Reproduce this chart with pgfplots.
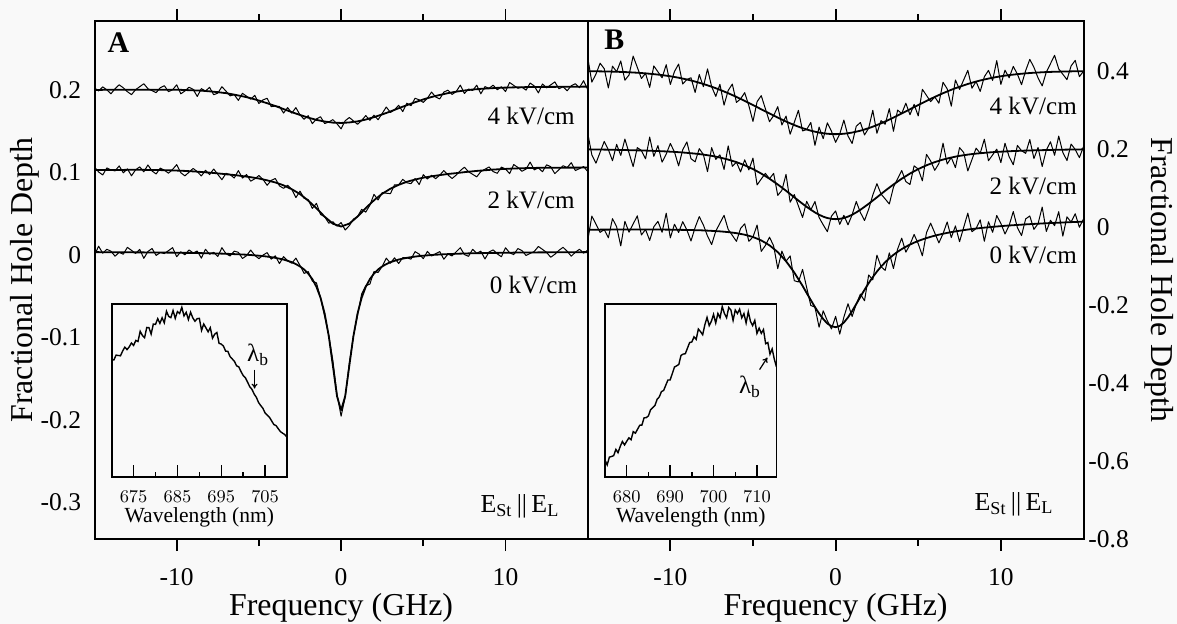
\documentclass[border=0pt]{standalone}
\usepackage{fontspec}
\setmainfont{Liberation Serif}
\usepackage{pgfplots}
\pgfplotsset{compat=1.18}
\usepackage{pgfplotstable}
\usetikzlibrary{arrows.meta}

\pgfplotstableread{
x f4 d4 f2 d2 f0 d0
-15 0.2000 0.2024 0.1030 0.1066 0.0035 -0.0001
-14.75 0.2000 0.1988 0.1030 0.1006 0.0035 0.0107
-14.5 0.2001 0.2037 0.1030 0.0970 0.0034 0.0022
-14.25 0.2001 0.2001 0.1030 0.1055 0.0034 0.0070
-14 0.2001 0.1953 0.1031 0.1031 0.0034 0.0046
-13.75 0.2002 0.2014 0.1031 0.1019 0.0034 -0.0014
-13.5 0.2002 0.2062 0.1031 0.1079 0.0033 0.0033
-13.25 0.2002 0.2026 0.1031 0.0996 0.0033 0.0009
-13 0.2003 0.1979 0.1032 0.1044 0.0033 0.0093
-12.75 0.2003 0.1943 0.1032 0.0960 0.0033 0.0057
-12.5 0.2003 0.2003 0.1032 0.1032 0.0032 0.0020
-12.25 0.2003 0.2039 0.1032 0.1068 0.0032 0.0068
-12 0.2003 0.2075 0.1032 0.1008 0.0032 -0.0040
-11.75 0.2003 0.2015 0.1031 0.1091 0.0031 0.0043
-11.5 0.2003 0.1991 0.1030 0.1018 0.0031 0.0079
-11.25 0.2003 0.1967 0.1030 0.0982 0.0031 -0.0005
-11 0.2003 0.2027 0.1029 0.1053 0.0030 0.0030
-10.75 0.2003 0.2051 0.1028 0.1028 0.0030 0.0018
-10.5 0.2003 0.1979 0.1027 0.0991 0.0029 0.0053
-10.25 0.2002 0.2002 0.1025 0.1037 0.0029 0.0089
-10 0.2002 0.2062 0.1023 0.1095 0.0028 -0.0020
-9.75 0.2001 0.1953 0.1021 0.0997 0.0027 0.0039
-9.5 0.1999 0.1987 0.1019 0.0959 0.0026 0.0002
-9.25 0.1997 0.2033 0.1016 0.1004 0.0026 0.0062
-9 0.1995 0.2007 0.1013 0.1049 0.0025 0.0025
-8.75 0.1993 0.1921 0.1010 0.1010 0.0024 0.0048
-8.5 0.1991 0.2015 0.1006 0.0958 0.0023 -0.0037
-8.25 0.1987 0.1987 0.1002 0.1026 0.0022 0.0070
-8 0.1983 0.2031 0.0998 0.0974 0.0021 0.0009
-7.75 0.1978 0.1942 0.0994 0.1042 0.0020 0.0032
-7.5 0.1973 0.1961 0.0989 0.0977 0.0018 -0.0018
-7.25 0.1967 0.2039 0.0984 0.0912 0.0017 0.0089
-7 0.1961 0.1985 0.0978 0.0990 0.0015 0.0015
-6.75 0.1952 0.1928 0.0974 0.0974 0.0013 -0.0011
-6.5 0.1943 0.1943 0.0969 0.0933 0.0011 0.0047
-6.25 0.1933 0.1873 0.0963 0.1023 0.0009 0.0033
-6 0.1923 0.1959 0.0956 0.0932 0.0006 -0.0042
-5.75 0.1912 0.1924 0.0950 0.0974 0.0004 -0.0008
-5.5 0.1900 0.1888 0.0943 0.0895 0.0000 0.0060
-5.25 0.1886 0.1934 0.0935 0.0923 -0.0004 -0.0004
-5 0.1871 0.1835 0.0927 0.0963 -0.0008 -0.0044
-4.75 0.1855 0.1879 0.0916 0.0916 -0.0013 -0.0001
-4.5 0.1839 0.1899 0.0905 0.0845 -0.0019 0.0029
-4.25 0.1822 0.1798 0.0892 0.0904 -0.0026 -0.0050
-4 0.1805 0.1805 0.0879 0.0927 -0.0034 -0.0010
-3.75 0.1787 0.1799 0.0862 0.0838 -0.0044 -0.0104
-3.5 0.1768 0.1720 0.0844 0.0808 -0.0055 -0.0019
-3.25 0.1750 0.1786 0.0821 0.0845 -0.0070 -0.0070
-3 0.1731 0.1719 0.0797 0.0797 -0.0087 -0.0099
-2.75 0.1714 0.1786 0.0768 0.0696 -0.0110 -0.0038
-2.5 0.1697 0.1697 0.0738 0.0774 -0.0138 -0.0126
-2.25 0.1681 0.1645 0.0699 0.0687 -0.0175 -0.0223
-2 0.1664 0.1688 0.0659 0.0671 -0.0225 -0.0201
-1.75 0.1651 0.1591 0.0613 0.0565 -0.0292 -0.0316
-1.5 0.1637 0.1649 0.0566 0.0626 -0.0385 -0.0337
-1.25 0.1627 0.1675 0.0515 0.0491 -0.0518 -0.0518
-1 0.1617 0.1593 0.0464 0.0464 -0.0709 -0.0745
-0.75 0.1611 0.1611 0.0422 0.0386 -0.0982 -0.0970
-0.5 0.1604 0.1640 0.0379 0.0403 -0.1341 -0.1281
-0.25 0.1602 0.1590 0.0362 0.0350 -0.1709 -0.1685
0 0.1600 0.1528 0.0345 0.0393 -0.1880 -0.1952
0.25 0.1603 0.1627 0.0363 0.0303 -0.1709 -0.1721
0.5 0.1606 0.1666 0.0380 0.0356 -0.1341 -0.1305
0.75 0.1613 0.1625 0.0423 0.0435 -0.0982 -0.0982
1 0.1619 0.1583 0.0466 0.0466 -0.0709 -0.0733
1.25 0.1630 0.1630 0.0517 0.0553 -0.0518 -0.0470
1.5 0.1641 0.1689 0.0568 0.0520 -0.0385 -0.0373
1.75 0.1656 0.1632 0.0616 0.0604 -0.0292 -0.0352
2 0.1670 0.1694 0.0663 0.0735 -0.0225 -0.0201
2.25 0.1687 0.1639 0.0703 0.0667 -0.0175 -0.0211
2.5 0.1703 0.1715 0.0743 0.0755 -0.0138 -0.0138
2.75 0.1721 0.1793 0.0773 0.0749 -0.0110 -0.0038
3 0.1739 0.1727 0.0803 0.0743 -0.0087 -0.0099
3.25 0.1759 0.1759 0.0827 0.0851 -0.0070 -0.0034
3.5 0.1778 0.1814 0.0850 0.0850 -0.0055 -0.0103
3.75 0.1797 0.1737 0.0869 0.0917 -0.0044 -0.0032
4 0.1815 0.1839 0.0887 0.0875 -0.0034 -0.0034
4.25 0.1833 0.1809 0.0901 0.0865 -0.0026 -0.0050
4.5 0.1851 0.1899 0.0914 0.0926 -0.0019 0.0041
4.75 0.1868 0.1880 0.0926 0.0854 -0.0013 0.0011
5 0.1885 0.1849 0.0937 0.0973 -0.0008 -0.0044
5.25 0.1900 0.1900 0.0945 0.0921 -0.0004 0.0044
5.5 0.1914 0.1974 0.0953 0.0965 0.0000 -0.0012
5.75 0.1927 0.1915 0.0961 0.0925 0.0004 0.0016
6 0.1939 0.1891 0.0968 0.0968 0.0006 0.0042
6.25 0.1950 0.1974 0.0975 0.1023 0.0009 -0.0051
6.5 0.1961 0.1997 0.0982 0.0970 0.0011 0.0011
6.75 0.1970 0.1946 0.0987 0.0927 0.0013 -0.0011
7 0.1979 0.1979 0.0992 0.0968 0.0015 0.0039
7.25 0.1986 0.2058 0.0998 0.1022 0.0017 0.0089
7.5 0.1993 0.1957 0.1004 0.1064 0.0018 0.0006
7.75 0.1999 0.2011 0.1009 0.1009 0.0020 -0.0016
8 0.2005 0.1993 0.1014 0.0978 0.0021 0.0069
8.25 0.2009 0.2057 0.1019 0.0947 0.0022 0.0022
8.5 0.2013 0.1953 0.1023 0.1011 0.0023 0.0047
8.75 0.2016 0.2040 0.1027 0.1039 0.0024 -0.0048
9 0.2019 0.2019 0.1031 0.1067 0.0025 0.0037
9.25 0.2022 0.2058 0.1035 0.1011 0.0026 0.0062
9.5 0.2025 0.2001 0.1038 0.0990 0.0026 0.0014
9.75 0.2027 0.2039 0.1041 0.1065 0.0027 -0.0021
10 0.2028 0.1980 0.1043 0.1043 0.0028 0.0088
10.25 0.2030 0.2090 0.1046 0.0986 0.0028 0.0028
10.5 0.2031 0.2055 0.1048 0.1096 0.0029 0.0005
10.75 0.2032 0.2020 0.1050 0.1062 0.0030 0.0078
11 0.2033 0.2033 0.1051 0.1015 0.0030 0.0054
11.25 0.2034 0.1998 0.1053 0.1041 0.0030 -0.0006
11.5 0.2035 0.2083 0.1054 0.1126 0.0031 0.0019
11.75 0.2036 0.2048 0.1055 0.1031 0.0031 0.0043
12 0.2036 0.1964 0.1056 0.1056 0.0032 0.0104
12.25 0.2036 0.2072 0.1057 0.1009 0.0032 0.0068
12.5 0.2037 0.2025 0.1057 0.1093 0.0032 0.0032
12.75 0.2037 0.2061 0.1058 0.1070 0.0033 -0.0027
13 0.2037 0.2097 0.1058 0.0986 0.0033 0.0009
13.25 0.2038 0.2014 0.1058 0.1034 0.0033 0.0057
13.5 0.2038 0.2038 0.1058 0.1082 0.0033 0.0093
13.75 0.2038 0.1990 0.1059 0.1059 0.0034 0.0046
14 0.2039 0.2051 0.1059 0.1119 0.0034 -0.0014
14.25 0.2039 0.2075 0.1059 0.1023 0.0034 0.0034
14.5 0.2039 0.2027 0.1059 0.1047 0.0034 0.0070
14.75 0.2040 0.2112 0.1060 0.1072 0.0035 0.0023
15 0.2040 0.2004 0.1060 0.1012 0.0035 0.0059
}\tabA

\pgfplotstableread{
x f4 d4 f2 d2 f0 d0
-15 0.3994 0.4344 0.1989 0.2409 -0.0072 -0.0352
-14.75 0.3993 0.3713 0.1988 0.1848 -0.0071 0.0279
-14.5 0.3991 0.3921 0.1986 0.1636 -0.0070 0.0070
-14.25 0.3989 0.4199 0.1985 0.1915 -0.0069 -0.0139
-14 0.3987 0.4057 0.1983 0.2193 -0.0068 -0.0068
-13.75 0.3985 0.3565 0.1981 0.1981 -0.0068 -0.0278
-13.5 0.3982 0.4122 0.1979 0.1699 -0.0067 0.0213
-13.25 0.3979 0.3979 0.1977 0.2117 -0.0066 0.0004
-13 0.3975 0.4255 0.1974 0.1834 -0.0066 -0.0486
-12.75 0.3971 0.3761 0.1972 0.2252 -0.0065 0.0145
-12.5 0.3966 0.3896 0.1969 0.1899 -0.0065 -0.0135
-12.25 0.3960 0.4380 0.1967 0.1547 -0.0065 0.0075
-12 0.3954 0.4094 0.1964 0.2034 -0.0065 0.0285
-11.75 0.3946 0.3806 0.1961 0.1961 -0.0065 -0.0205
-11.5 0.3938 0.3938 0.1958 0.1748 -0.0065 -0.0065
-11.25 0.3928 0.3578 0.1954 0.2304 -0.0065 -0.0345
-11 0.3918 0.4128 0.1950 0.1810 -0.0066 0.0004
-10.75 0.3906 0.3976 0.1946 0.2086 -0.0066 0.0144
-10.5 0.3894 0.3824 0.1941 0.1661 -0.0067 -0.0137
-10.25 0.3879 0.4159 0.1936 0.1866 -0.0068 0.0352
-10 0.3863 0.3653 0.1930 0.2140 -0.0069 -0.0279
-9.75 0.3845 0.3985 0.1924 0.1924 -0.0071 0.0069
-9.5 0.3826 0.4176 0.1917 0.1567 -0.0073 -0.0143
-9.25 0.3804 0.3664 0.1909 0.1979 -0.0075 0.0135
-9 0.3781 0.3781 0.1900 0.2180 -0.0077 -0.0077
-8.75 0.3755 0.3825 0.1890 0.1750 -0.0079 -0.0359
-8.5 0.3728 0.3448 0.1880 0.1670 -0.0082 -0.0012
-8.25 0.3697 0.3907 0.1868 0.2008 -0.0085 0.0265
-8 0.3666 0.3596 0.1855 0.1855 -0.0089 0.0051
-7.75 0.3631 0.4051 0.1839 0.1419 -0.0094 -0.0234
-7.5 0.3596 0.3596 0.1823 0.2033 -0.0100 -0.0450
-7.25 0.3557 0.3347 0.1802 0.1732 -0.0106 -0.0106
-7 0.3517 0.3657 0.1780 0.1850 -0.0113 0.0097
-6.75 0.3473 0.3123 0.1754 0.1474 -0.0122 0.0298
-6.5 0.3429 0.3499 0.1728 0.2078 -0.0132 -0.0062
-6.25 0.3382 0.3662 0.1695 0.1555 -0.0145 -0.0215
-6 0.3334 0.3194 0.1662 0.1662 -0.0159 -0.0369
-5.75 0.3283 0.3283 0.1622 0.1412 -0.0178 -0.0038
-5.5 0.3232 0.3442 0.1581 0.1721 -0.0199 0.0081
-5.25 0.3179 0.3109 0.1533 0.1463 -0.0227 -0.0367
-5 0.3126 0.2706 0.1484 0.1764 -0.0258 -0.0258
-4.75 0.3072 0.3212 0.1427 0.1077 -0.0300 0.0050
-4.5 0.3017 0.3367 0.1369 0.1229 -0.0346 -0.0626
-4.25 0.2963 0.3033 0.1303 0.1373 -0.0406 -0.0476
-4 0.2909 0.2699 0.1237 0.1237 -0.0471 -0.0261
-3.75 0.2856 0.2856 0.1163 0.1373 -0.0556 -0.0486
-3.5 0.2803 0.3083 0.1089 0.0809 -0.0646 -0.1066
-3.25 0.2753 0.2613 0.1009 0.0939 -0.0760 -0.0620
-3 0.2703 0.2843 0.0928 0.1348 -0.0878 -0.0878
-2.75 0.2657 0.2377 0.0844 0.0634 -0.1022 -0.0742
-2.5 0.2612 0.2682 0.0760 0.0830 -0.1168 -0.1378
-2.25 0.2571 0.2991 0.0677 0.0537 -0.1340 -0.1410
-2 0.2533 0.2463 0.0594 0.0244 -0.1508 -0.1088
-1.75 0.2499 0.2499 0.0516 0.0656 -0.1695 -0.1555
-1.5 0.2468 0.2678 0.0441 0.0441 -0.1874 -0.2014
-1.25 0.2443 0.2093 0.0373 0.0653 -0.2054 -0.2054
-1 0.2420 0.2560 0.0313 0.0243 -0.2219 -0.2569
-0.75 0.2403 0.2263 0.0265 0.0055 -0.2360 -0.2150
-0.5 0.2390 0.2670 0.0229 -0.0121 -0.2476 -0.2406
-0.25 0.2382 0.2452 0.0208 0.0278 -0.2545 -0.2615
0 0.2380 0.2170 0.0200 0.0410 -0.2570 -0.2290
0.25 0.2382 0.2382 0.0208 0.0068 -0.2538 -0.2748
0.5 0.2390 0.2740 0.0229 0.0299 -0.2451 -0.2311
0.75 0.2403 0.2333 0.0265 0.0055 -0.2319 -0.1969
1 0.2420 0.2140 0.0313 0.0313 -0.2156 -0.2296
1.25 0.2443 0.2583 0.0373 0.0653 -0.1976 -0.1976
1.5 0.2468 0.2678 0.0441 0.0371 -0.1791 -0.1721
1.75 0.2499 0.2359 0.0516 0.0166 -0.1611 -0.1891
2 0.2533 0.2533 0.0594 0.0454 -0.1441 -0.1231
2.25 0.2571 0.2991 0.0677 0.0817 -0.1286 -0.1356
2.5 0.2612 0.2402 0.0760 0.1110 -0.1143 -0.0723
2.75 0.2657 0.2727 0.0844 0.0844 -0.1018 -0.1018
3 0.2703 0.2633 0.0928 0.0718 -0.0904 -0.1114
3.25 0.2753 0.3033 0.1009 0.0589 -0.0805 -0.0665
3.5 0.2803 0.2453 0.1089 0.1019 -0.0715 -0.1065
3.75 0.2856 0.2996 0.1163 0.1233 -0.0638 -0.0568
4 0.2909 0.2909 0.1237 0.1447 -0.0568 -0.0288
4.25 0.2963 0.3173 0.1303 0.1163 -0.0507 -0.0647
4.5 0.3017 0.2877 0.1369 0.1089 -0.0452 -0.0452
4.75 0.3072 0.3142 0.1427 0.1567 -0.0403 -0.0193
5 0.3126 0.2846 0.1484 0.1484 -0.0359 -0.0429
5.25 0.3179 0.3529 0.1533 0.1183 -0.0320 -0.0740
5.5 0.3232 0.3372 0.1581 0.1861 -0.0285 -0.0145
5.75 0.3283 0.3213 0.1622 0.1692 -0.0253 0.0097
6 0.3334 0.3334 0.1662 0.1452 -0.0224 -0.0154
6.25 0.3382 0.3172 0.1695 0.1625 -0.0198 -0.0408
6.5 0.3429 0.3709 0.1728 0.2148 -0.0174 -0.0174
6.75 0.3473 0.3543 0.1754 0.1614 -0.0152 0.0128
7 0.3517 0.3097 0.1780 0.1780 -0.0132 -0.0272
7.25 0.3557 0.3767 0.1802 0.1522 -0.0114 0.0026
7.5 0.3596 0.3526 0.1823 0.2033 -0.0097 -0.0377
7.75 0.3631 0.3771 0.1839 0.1909 -0.0081 -0.0011
8 0.3666 0.4016 0.1855 0.1435 -0.0066 0.0354
8.25 0.3697 0.3557 0.1868 0.1728 -0.0053 -0.0123
8.5 0.3728 0.3728 0.1880 0.2020 -0.0040 -0.0040
8.75 0.3755 0.3475 0.1890 0.1890 -0.0028 0.0182
9 0.3781 0.3851 0.1900 0.2250 -0.0017 -0.0367
9.25 0.3804 0.4014 0.1909 0.1699 -0.0007 0.0133
9.5 0.3826 0.3756 0.1917 0.1847 0.0003 -0.0137
9.75 0.3845 0.4265 0.1924 0.1994 0.0012 0.0292
10 0.3863 0.3653 0.1930 0.1650 0.0021 0.0091
10.25 0.3879 0.4019 0.1936 0.2146 0.0030 -0.0180
10.5 0.3894 0.3824 0.1941 0.1801 0.0038 0.0038
10.75 0.3906 0.4116 0.1946 0.1596 0.0045 0.0395
11 0.3918 0.3918 0.1950 0.2090 0.0052 -0.0018
11.25 0.3928 0.3648 0.1954 0.1954 0.0059 -0.0221
11.5 0.3938 0.4008 0.1958 0.1888 0.0066 0.0206
11.75 0.3946 0.4296 0.1961 0.2241 0.0072 0.0282
12 0.3954 0.4094 0.1964 0.1754 0.0078 -0.0062
12.25 0.3960 0.3820 0.1967 0.2037 0.0084 0.0084
12.5 0.3966 0.3616 0.1969 0.1549 0.0090 0.0510
12.75 0.3971 0.3971 0.1972 0.1972 0.0095 -0.0115
13 0.3975 0.4185 0.1974 0.2184 0.0100 0.0170
13.25 0.3979 0.4399 0.1977 0.1837 0.0105 0.0035
13.5 0.3982 0.4052 0.1979 0.2329 0.0110 0.0390
13.75 0.3985 0.3915 0.1981 0.1911 0.0115 -0.0235
14 0.3987 0.3777 0.1983 0.1703 0.0119 0.0259
14.25 0.3989 0.4129 0.1985 0.2125 0.0124 0.0124
14.5 0.3991 0.4271 0.1986 0.1986 0.0128 0.0338
14.75 0.3993 0.3853 0.1988 0.1778 0.0132 -0.0008
15 0.3994 0.3994 0.1989 0.2059 0.0136 0.0206
}\tabB

\pgfplotstableread{
x y
670 0.678
670.5 0.676
671 0.704
671.5 0.702
672 0.700
672.5 0.728
673 0.750
673.5 0.736
674 0.752
674.5 0.774
675 0.760
675.5 0.789
676 0.783
676.5 0.842
677 0.818
677.5 0.805
678 0.864
678.5 0.863
679 0.826
679.5 0.884
680 0.882
680.5 0.915
681 0.888
681.5 0.920
682 0.891
682.5 0.958
683 0.928
683.5 0.921
684 0.962
684.5 0.917
685 0.956
685.5 0.945
686 0.981
686.5 0.931
687 0.952
687.5 0.910
688 0.952
688.5 0.920
689 0.900
689.5 0.915
690 0.917
690.5 0.847
691 0.884
691.5 0.862
692 0.839
692.5 0.863
693 0.802
693.5 0.825
694 0.835
694.5 0.772
695 0.768
695.5 0.756
696 0.727
696.5 0.726
697 0.696
697.5 0.682
698 0.668
698.5 0.642
699 0.636
699.5 0.609
700 0.586
700.5 0.573
701 0.548
701.5 0.521
702 0.506
702.5 0.479
703 0.460
703.5 0.430
704 0.412
704.5 0.396
705 0.369
705.5 0.356
706 0.344
706.5 0.323
707 0.302
707.5 0.296
708 0.278
708.5 0.261
709 0.252
709.5 0.244
710 0.228
}\insA

\pgfplotstableread{
x y
675 0.096
675.5 0.068
676 0.113
676.5 0.117
677 0.122
677.5 0.158
678 0.139
678.5 0.175
679 0.204
679.5 0.184
680 0.205
680.5 0.225
681 0.214
681.5 0.261
682 0.252
682.5 0.275
683 0.298
683.5 0.299
684 0.341
684.5 0.342
685 0.352
685.5 0.388
686 0.400
686.5 0.412
687 0.448
687.5 0.462
688 0.493
688.5 0.499
689 0.530
689.5 0.560
690 0.560
690.5 0.597
691 0.635
691.5 0.642
692 0.650
692.5 0.702
693 0.710
693.5 0.712
694 0.745
694.5 0.777
695 0.780
695.5 0.810
696 0.795
696.5 0.855
697 0.840
697.5 0.822
698 0.880
698.5 0.922
699 0.875
699.5 0.900
700 0.940
700.5 0.890
701 0.945
701.5 0.920
702 0.985
702.5 0.945
703 0.920
703.5 0.980
704 0.965
704.5 0.905
705 0.965
705.5 0.945
706 0.970
706.5 0.920
707 0.945
707.5 0.890
708 0.955
708.5 0.900
709 0.875
709.5 0.905
710 0.830
710.5 0.860
711 0.830
711.5 0.852
712 0.770
712.5 0.777
713 0.710
713.5 0.740
714 0.680
714.5 0.635
}\insB

\pgfplotsset{
  mainax/.style={
    scale only axis, height=259bp, xmin=-15, xmax=15,
    axis line style={line width=1bp},
    tick align=outside,
    xtick={-10,0,10}, xticklabels={-10,0,10}, minor xtick={-5,5},
    xtick pos=both, xticklabel pos=left,
    major tick length=6bp, minor tick length=3.5bp,
    every tick/.style={black, line width=0.9bp},
    y tick style={draw=none},
    tick label style={font=\fontsize{12.8}{14}\selectfont},
    xticklabel style={anchor=center, yshift=-13bp},
    xlabel={Frequency (GHz)},
    every axis x label/.style={at={(axis description cs:0.5,0)}, anchor=center, yshift=-34.5bp, font=\fontsize{16}{18}\selectfont},
    ylabel={Fractional Hole Depth},
  },
  insax/.style={
    scale only axis, height=86.35bp, ymin=0, ymax=1, ytick=\empty,
    tick align=inside, xtick pos=left, xticklabel pos=left,
    major tick length=5.8bp, minor tick length=2.5bp,
    every tick/.style={black, line width=0.7bp},
    axis line style={line width=0.8bp},
    xticklabel style={anchor=center, yshift=-10bp, font=\fontsize{9.5}{10}\selectfont},
    xlabel={Wavelength (nm)},
    every axis x label/.style={at={(axis description cs:0.5,0)}, anchor=center, yshift=-20.5bp, font=\fontsize{10.8}{12}\selectfont},
  },
  dat/.style={black, line width=0.5bp, line join=round},
  fitl/.style={black, line width=0.9bp, line join=round},
}

\begin{document}
\begin{tikzpicture}
\fill[black!2.5] (0,0) rectangle (588.5bp,312bp);
\useasboundingbox (0,0) rectangle (588.5bp,312bp);

% ---------------- Panel A ----------------
\begin{axis}[mainax, at={(47.25bp,42.5bp)}, anchor=south west, width=246.6bp,
  ymin=-0.344, ymax=0.2835,
  ytick={-0.3,-0.2,-0.1,0,0.1,0.2}, yticklabels={-0.3,-0.2,-0.1,0,0.1,0.2},
  ytick pos=left, yticklabel pos=left,
  yticklabel style={anchor=east, inner sep=0pt, xshift=-0.5bp},
  every axis y label/.style={at={(axis description cs:0,0.5)}, xshift=-34.75bp, rotate=90, anchor=center, font=\fontsize{16}{18}\selectfont},
]
\addplot[dat] table[x=x,y=d4] {\tabA};
\addplot[fitl] table[x=x,y=f4] {\tabA};
\addplot[dat] table[x=x,y=d2] {\tabA};
\addplot[fitl] table[x=x,y=f2] {\tabA};
\addplot[dat] table[x=x,y=d0] {\tabA};
\addplot[fitl] table[x=x,y=f0] {\tabA};
\node[font=\fontsize{15}{16}\selectfont\bfseries] at (axis cs:-13.54,0.257) {A};
\node[font=\fontsize{12.6}{14}\selectfont] at (axis cs:11.56,0.168) {4 kV/cm};
\node[font=\fontsize{12.6}{14}\selectfont] at (axis cs:11.56,0.067) {2 kV/cm};
\node[font=\fontsize{12.6}{14}\selectfont] at (axis cs:11.7,-0.036) {0 kV/cm};
\node[font=\fontsize{13}{14}\selectfont] at (axis cs:10.88,-0.3045) {E\textsubscript{St}\,||\,E\textsubscript{L}};
\end{axis}

% ---------------- Panel B ----------------
\begin{axis}[mainax, at={(293.85bp,42.5bp)}, anchor=south west, width=247.9bp,
  ymin=-0.8, ymax=0.528,
  ytick={-0.8,-0.6,-0.4,-0.2,0,0.2,0.4},
  yticklabels={\llap{-}0.8,\llap{-}0.6,\llap{-}0.4,\llap{-}0.2,0,0.2,0.4},
  ytick pos=right, yticklabel pos=right,
  yticklabel style={anchor=west, inner sep=0pt, xshift=0.5bp},
  every axis y label/.style={at={(axis description cs:1,0.5)}, xshift=37.75bp, rotate=-90, anchor=center, font=\fontsize{16}{18}\selectfont},
]
\addplot[dat] table[x=x,y=d4] {\tabB};
\addplot[fitl] table[x=x,y=f4] {\tabB};
\addplot[dat] table[x=x,y=d2] {\tabB};
\addplot[fitl] table[x=x,y=f2] {\tabB};
\addplot[dat] table[x=x,y=d0] {\tabB};
\addplot[fitl] table[x=x,y=f0] {\tabB};
\node[font=\fontsize{15}{16}\selectfont\bfseries] at (axis cs:-13.39,0.479) {B};
\node[font=\fontsize{12.6}{14}\selectfont] at (axis cs:11.96,0.311) {4 kV/cm};
\node[font=\fontsize{12.6}{14}\selectfont] at (axis cs:11.96,0.106) {2 kV/cm};
\node[font=\fontsize{12.6}{14}\selectfont] at (axis cs:11.96,-0.072) {0 kV/cm};
\node[font=\fontsize{13}{14}\selectfont] at (axis cs:10.8,-0.7105) {E\textsubscript{St}\,||\,E\textsubscript{L}};
\end{axis}

% ---------------- Inset A ----------------
\begin{axis}[insax, at={(55.85bp,73.65bp)}, anchor=south west, width=87.65bp,
  xmin=670, xmax=710, xtick={675,685,695,705}, minor xtick={680,690,700}]
\addplot[black, line width=0.7bp] table[x=x,y=y] {\insA};
\node[font=\fontsize{12.5}{14}\selectfont] at (axis cs:703.4,0.705) {λ\textsubscript{b}};
\draw[-{To[length=2.5bp,width=3bp]}, line width=0.6bp] (axis cs:702.6,0.62) -- (axis cs:702.6,0.51);
\end{axis}

% ---------------- Inset B ----------------
\begin{axis}[insax, at={(302.5bp,73.65bp)}, anchor=south west, width=85.75bp,
  xmin=675, xmax=714.5, xtick={680,690,700,710}, minor xtick={685,695,705}]
\addplot[black, line width=0.7bp] table[x=x,y=y] {\insB};
\node[font=\fontsize{12.5}{14}\selectfont] at (axis cs:708.4,0.52) {λ\textsubscript{b}};
\draw[-{To[length=2.5bp,width=3bp]}, line width=0.6bp] (axis cs:710.6,0.62) -- (axis cs:712.4,0.69);
\end{axis}
\end{tikzpicture}
\end{document}
